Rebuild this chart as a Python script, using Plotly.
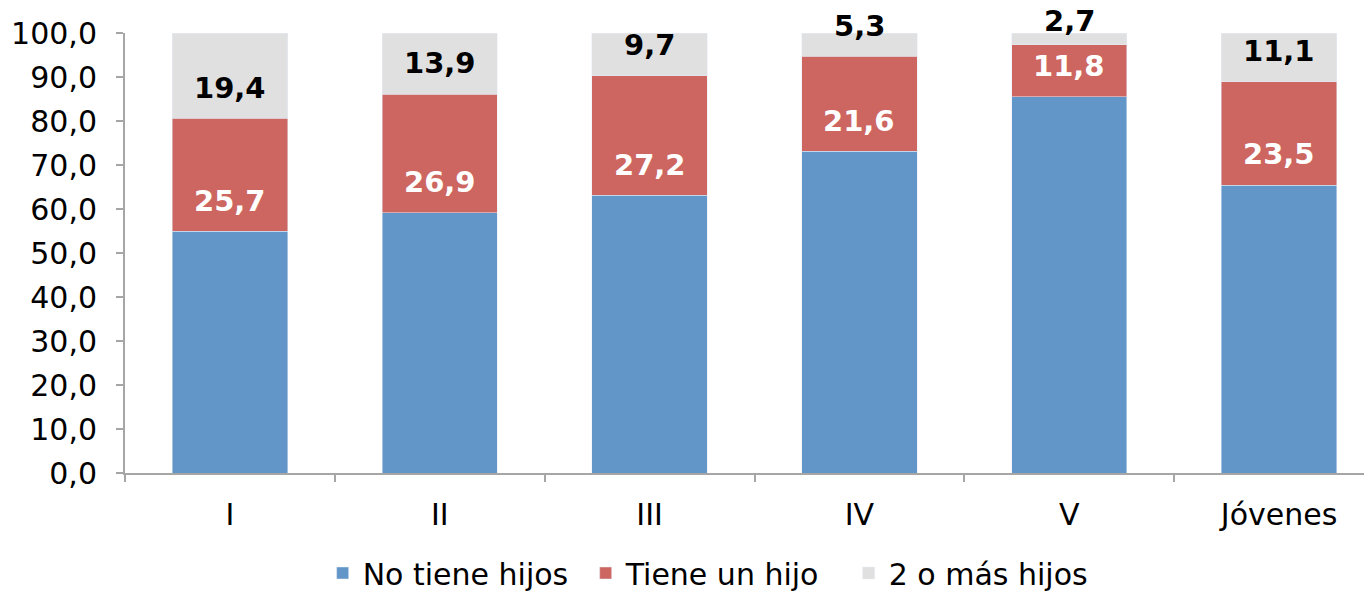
import plotly.graph_objects as go

# Distribución por número de hijos (%)
categorias = ['I', 'II', 'III', 'IV', 'V', 'Jóvenes']
sin_hijos = [54.9, 59.2, 63.1, 73.1, 85.5, 65.4]
un_hijo = [25.7, 26.9, 27.2, 21.6, 11.8, 23.5]
dos_o_mas = [19.4, 13.9, 9.7, 5.3, 2.7, 11.1]

azul = '#6296C9'
rojo = '#CD6660'
gris = '#E0E0E0'
eje = '#A6A6A6'
fuente = 'DejaVu Sans'
desfase = 7  # Excel "inside base" label offset, in data units
ymax = 100
tope = 102.8  # labels are kept inside the chart area


def fmt(v):
	return f'{v:.1f}'.replace('.', ',')


fig = go.Figure()
fig.add_bar(x=categorias, y=sin_hijos, name='No tiene hijos', marker_color=azul)
fig.add_bar(x=categorias, y=un_hijo, name='Tiene un hijo', marker_color=rojo)
fig.add_bar(x=categorias, y=dos_o_mas, name='2 o más hijos', marker_color=gris)

# labels near the base of each segment (paper refs so the ones above 100 are not hidden)
for cat, a, b, c in zip(categorias, sin_hijos, un_hijo, dos_o_mas):
	y_rojo = min(a + desfase, tope)
	y_gris = min(a + b + desfase, tope)
	fig.add_annotation(x=cat, xref='x', y=y_rojo / ymax, yref='paper', yanchor='middle',
		text=fmt(b), showarrow=False, font=dict(family=fuente, size=29, color='white', weight='bold'))
	fig.add_annotation(x=cat, xref='x', y=y_gris / ymax, yref='paper', yanchor='middle',
		text=fmt(c), showarrow=False, font=dict(family=fuente, size=29, color='black', weight='bold'))

# page body has an 8px margin; the plot area runs slightly past the right edge like the original
fig.update_layout(
	barmode='stack',
	bargap=0.45,
	width=1376, height=591,
	margin=dict(l=117, r=0, t=25, b=126),
	paper_bgcolor='white', plot_bgcolor='white',
	separators=',.',
	font=dict(family=fuente, size=30, color='black'),
	legend=dict(orientation='h', x=0.157, xanchor='left', yref='container', y=0.0, yanchor='bottom',
		font=dict(size=30), traceorder='normal', entrywidth=218),
)
fig.update_yaxes(range=[0, ymax], dtick=10, tickformat='.1f', showgrid=False, zeroline=False,
	showline=True, linecolor=eje, linewidth=2, ticks='outside', ticklen=7,
	tickcolor=eje, tickwidth=2, ticklabelstandoff=13)
fig.update_xaxes(showgrid=False, showline=True, linecolor=eje, linewidth=2,
	ticks='outside', ticklen=7, tickcolor=eje, tickwidth=2, tickson='boundaries',
	ticklabelstandoff=14)

fig.write_html('out.html')
